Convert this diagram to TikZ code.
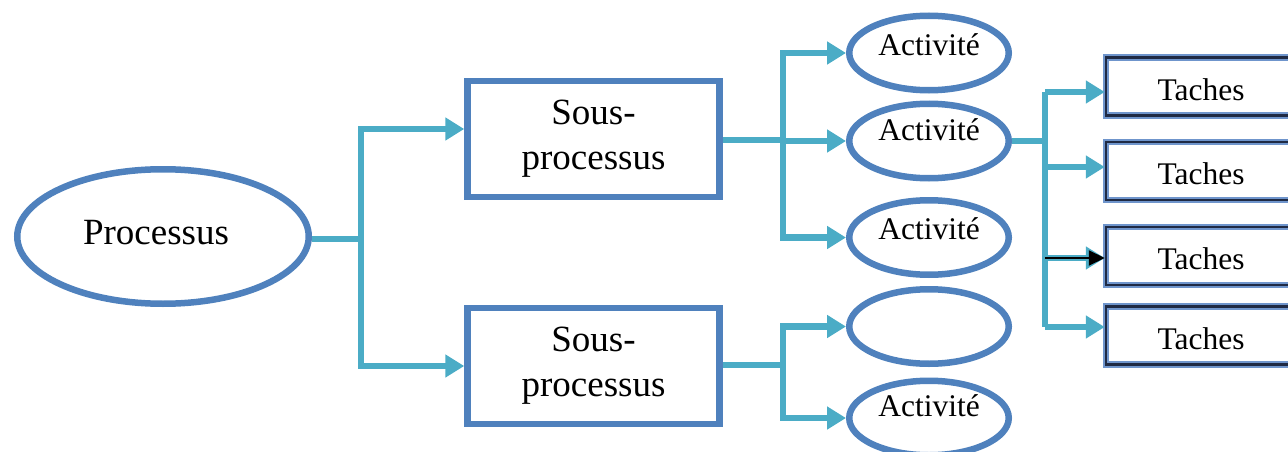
\documentclass[tikz,border=0pt]{standalone}
\usepackage{fontspec}
\setmainfont{Liberation Serif}
\usetikzlibrary{shapes.geometric,arrows.meta}
\definecolor{frame}{HTML}{4F81BD}
\definecolor{link}{HTML}{4BACC6}
\definecolor{boxline}{HTML}{1F2A44}
\definecolor{boxhalo}{HTML}{6F95CC}
\tikzset{
  oval/.style={ellipse, draw=frame, line width=6.5pt, inner sep=0pt},
  procbox/.style={rectangle, draw=frame, line width=6.5pt, minimum width=252pt, minimum height=116pt,
    align=center, font=\fontsize{37}{45}\selectfont},
  actoval/.style={oval, minimum width=159.5pt, minimum height=74.5pt},
  acttext/.style={font=\fontsize{31.5}{34}\selectfont},
  tachebox/.style={rectangle, draw=boxline, line width=2.5pt, minimum width=190pt, minimum height=58pt,
    preaction={draw=boxhalo, line width=6.5pt}},
  tachetext/.style={font=\fontsize{31.5}{34}\selectfont, yshift=-3pt},
  conn/.style={draw=link, line width=6.5pt, line join=miter},
  arr/.style={conn, -{Triangle[length=19pt,width=22pt]}},
  blackarr/.style={draw=black, line width=2pt, -{Triangle[length=16pt,width=15pt]}},
}
\begin{document}
\begin{tikzpicture}[x=1pt,y=-1pt]
\useasboundingbox (0,0) rectangle (1288,452);

% main process
\node[oval, minimum width=291.5pt, minimum height=134.5pt,
  label={[font=\fontsize{37}{40}\selectfont, xshift=-7pt, yshift=4pt]center:Processus}] (proc) at (163,236.5) {};

% sub-processes
\node[procbox] (sp1) at (593.5,139) {Sous-\\processus};
\node[procbox] (sp2) at (593.5,366) {Sous-\\processus};

% activities
\node[actoval, label={[acttext, yshift=8pt]center:Activité}] (a1) at (929,53) {};
\node[actoval, label={[acttext, yshift=11pt]center:Activité}] (a2) at (929,141) {};
\node[actoval, label={[acttext, yshift=9pt]center:Activité}] (a3) at (929,237.5) {};
\node[actoval] (a4) at (929,326.5) {};
\node[actoval, label={[acttext, yshift=12pt]center:Activité}] (a5) at (929,418) {};

% tasks
\node[tachebox, label={[tachetext]center:Taches}] (t1) at (1201,86.5) {};
\node[tachebox, label={[tachetext]center:Taches}] (t2) at (1201,171) {};
\node[tachebox, label={[tachetext]center:Taches}] (t3) at (1201,256) {};
\node[tachebox, label={[tachetext]center:Taches}] (t4) at (1201,335.5) {};

% branch points
\coordinate (j1) at (361,239);
\coordinate (j2) at (783,140);
\coordinate (j3) at (783,365);
\coordinate (j4) at (1045,141);
\coordinate (k1) at (1045,92);
\coordinate (k2) at (1045,167);
\coordinate (k3) at (1045,258);
\coordinate (k4) at (1045,327);

% process -> sub-processes
\draw[conn] (proc.east |- j1) -- (j1);
\draw[arr] (j1) |- ([yshift=10pt]sp1.west);
\draw[arr] (j1) |- (sp2.west);

% sub-process 1 -> activities
\draw[conn] (sp1.east |- j2) -- (j2);
\draw[arr] (j2) |- (a1.west);
\draw[arr] (j2) |- (a2.west);
\draw[arr] (j2) |- (a3.west);

% sub-process 2 -> activities
\draw[conn] (sp2.east |- j3) -- (j3);
\draw[arr] (j3) |- (a4.west);
\draw[arr] (j3) |- (a5.west);

% activity -> tasks
\draw[conn] (a2.east) -- (j4);
\draw[conn] (k1) -- (k4);
\draw[arr] (k1) -- (t1.west |- k1);
\draw[arr] (k2) -- (t2.west |- k2);
\draw[arr] (k3) -- (t3.west |- k3);
\draw[arr] (k4) -- (t4.west |- k4);
\draw[blackarr] (k3) -- (t3.west |- k3);
\end{tikzpicture}
\end{document}
